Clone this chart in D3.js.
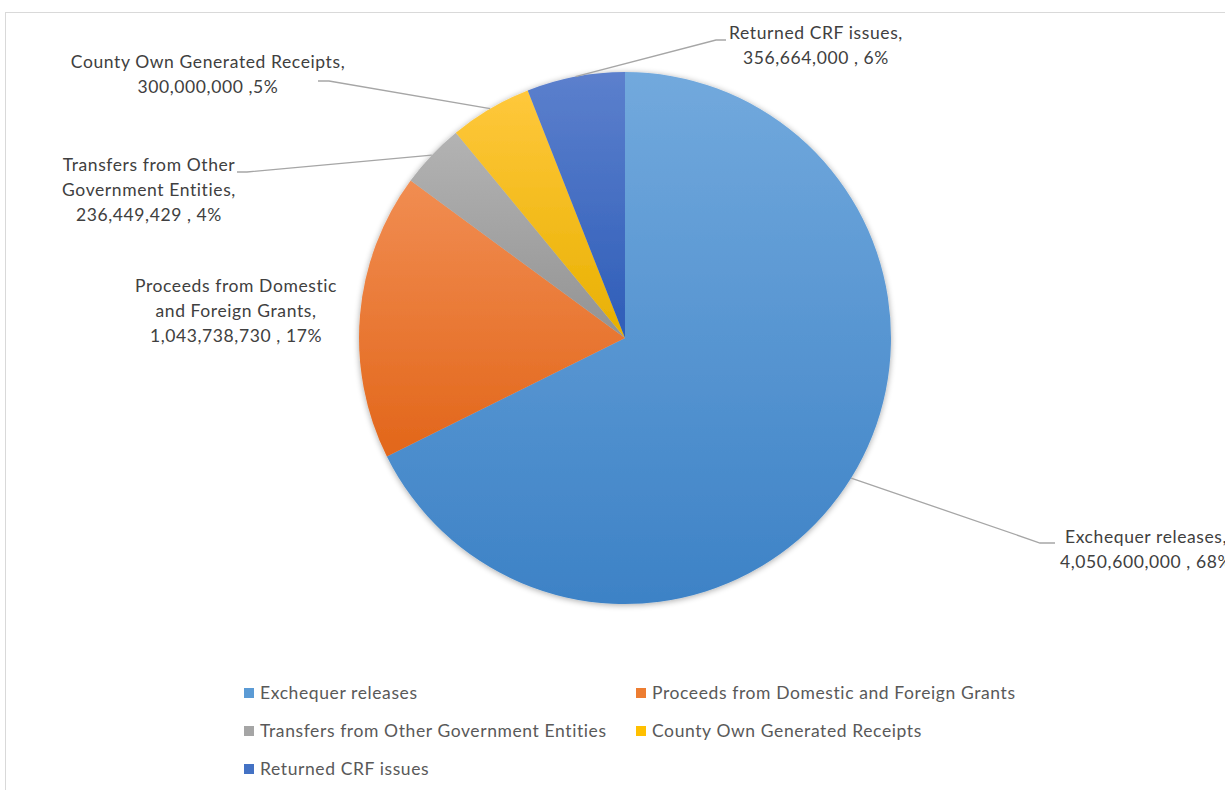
<!DOCTYPE html>
<html><head><meta charset="utf-8">
<script src="https://cdn.jsdelivr.net/npm/d3@7"></script>
<style>body{margin:0;background:#fff;}svg{display:block;font-family:Lato,"Open Sans",sans-serif;}</style>
</head><body><svg id="c" width="1225" height="790"></svg>
<script>
const categories = ["Exchequer releases","Proceeds from Domestic and Foreign Grants","Transfers from Other Government Entities","County Own Generated Receipts","Returned CRF issues"];
const values = [4050600000, 1043738730, 236449429, 300000000, 356664000];
const labelLines = [
  ["Exchequer releases,", "4,050,600,000 , 68%"],
  ["Proceeds from Domestic", "and Foreign Grants,", "1,043,738,730 , 17%"],
  ["Transfers from Other", "Government Entities,", "236,449,429 , 4%"],
  ["County Own Generated Receipts,", "300,000,000 ,5%"],
  ["Returned CRF issues,", "356,664,000 , 6%"]
];
const colors = ["#5B9BD5","#ED7D31","#A5A5A5","#FFC000","#4472C4"];
const gradTop = ["#72a9dd","#f18d52","#b3b3b3","#ffc83c","#5c80cd"];
const gradBottom = ["#3d82c6","#e2661a","#939393","#e8b000","#2e5db8"];

const svg = d3.select("#c");
const cx = 625, cy = 338, R = 266;

svg.append("rect").attr("x",5.5).attr("y",12.5).attr("width",1300).attr("height",900)
  .attr("fill","none").attr("stroke","#d9d9d9").attr("stroke-width",1);

const defs = svg.append("defs");
const f = defs.append("filter").attr("id","sh").attr("x","-10%").attr("y","-10%").attr("width","120%").attr("height","120%");
f.append("feGaussianBlur").attr("in","SourceAlpha").attr("stdDeviation",3).attr("result","b");
f.append("feOffset").attr("in","b").attr("dx",0).attr("dy",1).attr("result","o");
f.append("feComponentTransfer").attr("in","o").attr("result","o2").append("feFuncA").attr("type","linear").attr("slope",0.35);
const m = f.append("feMerge"); m.append("feMergeNode").attr("in","o2"); m.append("feMergeNode").attr("in","SourceGraphic");

colors.forEach((c,i)=>{
  const g = defs.append("linearGradient").attr("id","g"+i).attr("x1",0).attr("y1",0).attr("x2",0).attr("y2",1);
  g.append("stop").attr("offset","0%").attr("stop-color", gradTop[i]);
  g.append("stop").attr("offset","100%").attr("stop-color", gradBottom[i]);
});

const pie = d3.pie().sort(null).value(d=>d);
const arcs = pie(values);
const arc = d3.arc().innerRadius(0).outerRadius(R);

const gp = svg.append("g").attr("transform",`translate(${cx},${cy})`).attr("filter","url(#sh)");
gp.selectAll("path").data(arcs).enter().append("path")
  .attr("d",arc).attr("fill",(d,i)=>`url(#g${i})`);

const labelLayout = [
  {cx:null, left2:1060, y:537, elbow:[1040,543], end:[1055,543]},
  {cx:236, y:286},
  {cx:149, y:165, elbow:[247,172], end:[237,172]},
  {cx:208, y:62, elbow:[329,81], end:[318,81]},
  {cx:816, y:33, elbow:[716,40], end:[726,40]}
];
const lh = 25;
const FS = 17.5, LS = 0.6;
arcs.forEach((a,i)=>{
  const L = labelLayout[i];
  if (L.elbow){
    const mid = (a.startAngle + a.endAngle)/2;
    const p0 = [cx + R*Math.sin(mid), cy - R*Math.cos(mid)];
    svg.append("polyline").attr("points",[p0,L.elbow,L.end].map(p=>p.join(",")).join(" "))
      .attr("fill","none").attr("stroke","#a6a6a6").attr("stroke-width",1.3);
  }
  const t = svg.append("text").attr("text-anchor","middle").attr("fill","#404040")
    .attr("font-size",FS).attr("letter-spacing",LS);
  const spans = labelLines[i].map((s,k)=>
    t.append("tspan").attr("y",L.y + k*lh).attr("dy","0.35em").text(s));
  let ccx = L.cx;
  if (ccx === null) {
    ccx = L.left2 + spans[1].node().getComputedTextLength()/2;
  }
  spans.forEach(sp=>sp.attr("x",ccx));
});

const legPos = [[244,693],[636,693],[244,731],[636,731],[244,769]];
categories.forEach((c,i)=>{
  const [x,y] = legPos[i];
  svg.append("rect").attr("x",x).attr("y",y-5).attr("width",10).attr("height",10).attr("fill",colors[i]);
  svg.append("text").attr("x",x+16).attr("y",y).attr("dy","0.35em").attr("fill","#595959")
    .attr("font-size",FS).attr("letter-spacing",LS).text(c);
});
</script></body></html>
